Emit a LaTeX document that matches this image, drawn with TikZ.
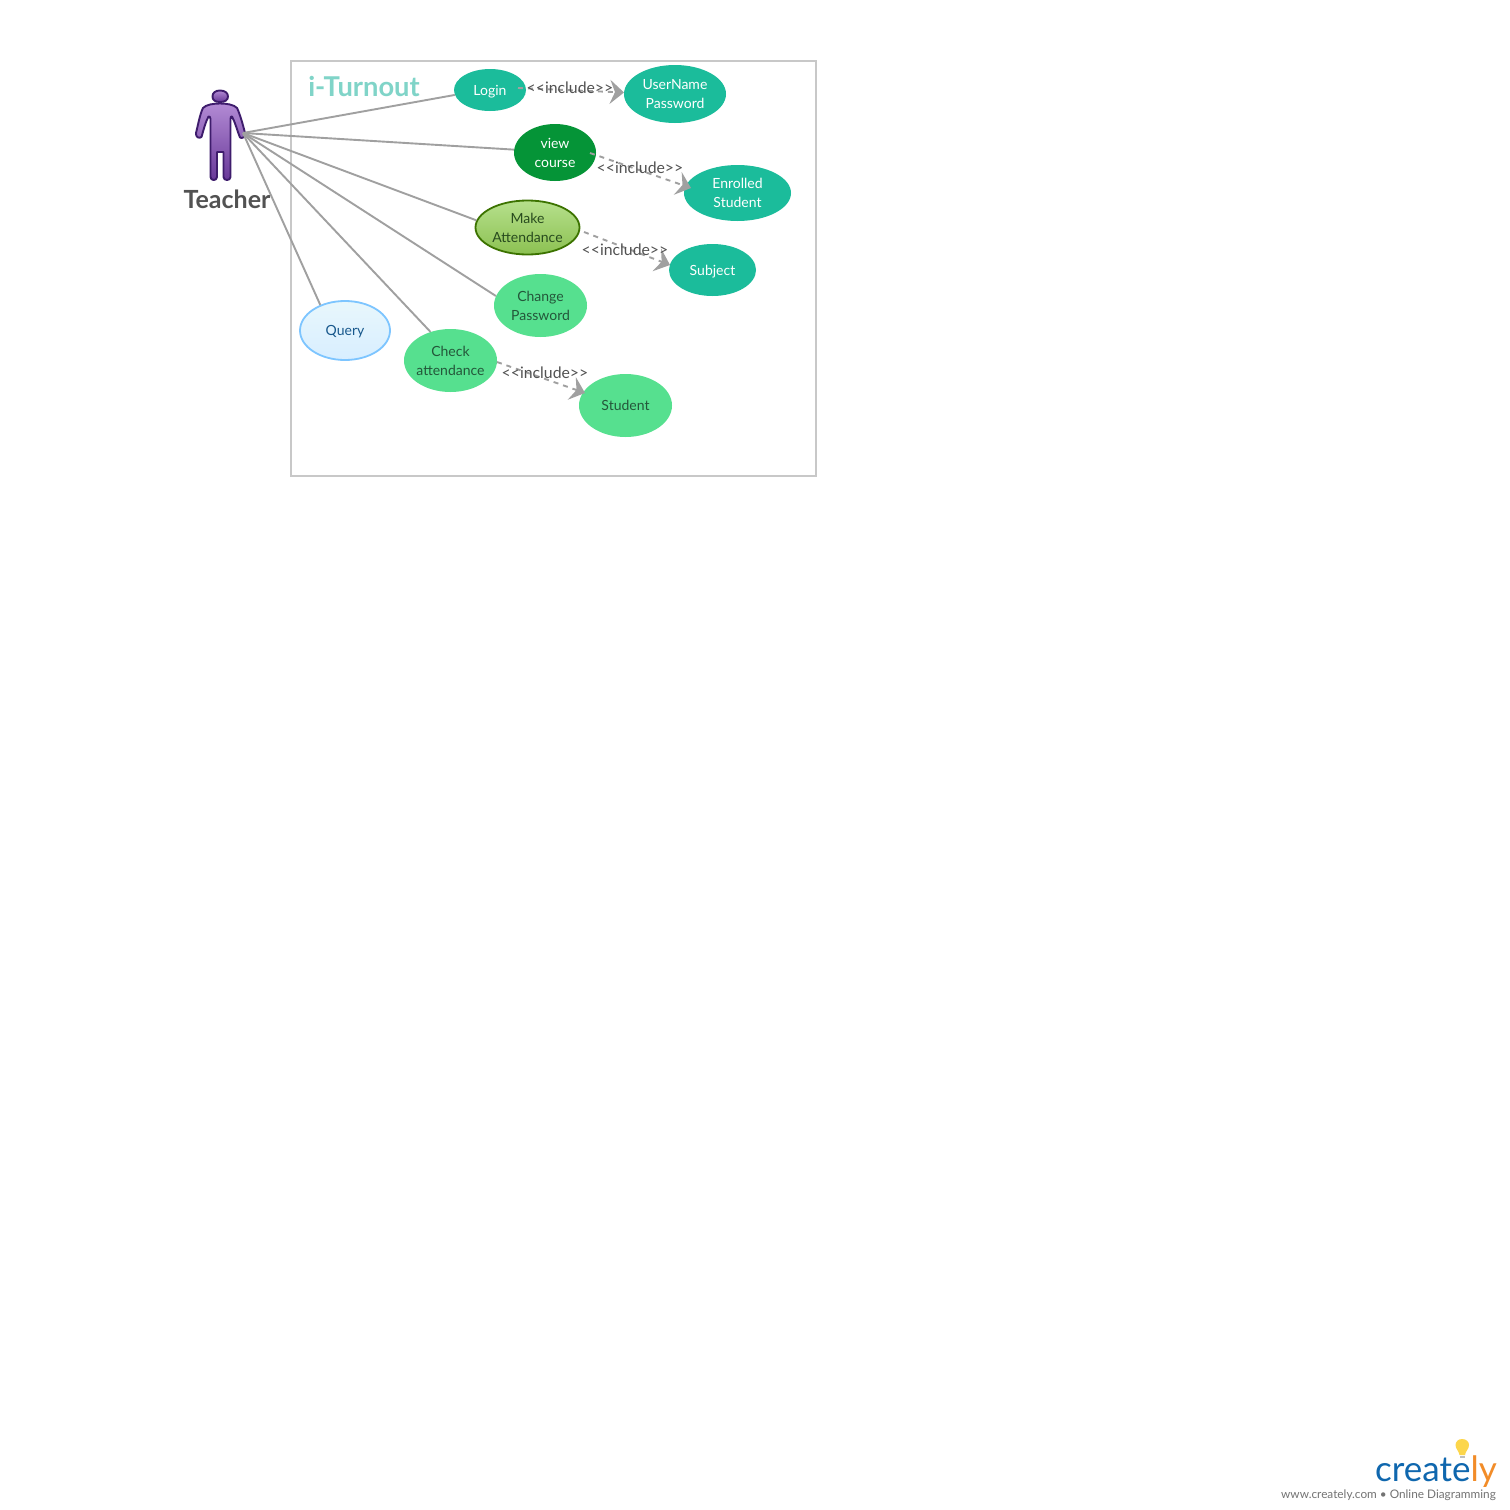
\documentclass[tikz,border=0pt]{standalone}
\usepackage{fontspec}
\setmainfont{Lato}
\usetikzlibrary{shapes.geometric,arrows.meta}
\definecolor{teal}{HTML}{1BBC9B}
\definecolor{dkgreen}{HTML}{059437}
\definecolor{ltgreen}{HTML}{56E08F}
\definecolor{ltgreentxt}{HTML}{24573A}
\definecolor{linegray}{HTML}{A0A0A0}
\definecolor{boxgray}{HTML}{C8C8C8}
\definecolor{titlecol}{HTML}{80D4C8}
\newcommand{\zw}[1]{\makebox[0pt][c]{#1}}
\newcommand{\oneline}[1]{\raisebox{-5pt}[0pt][0pt]{\zw{#1}}}
\newcommand{\incltxt}{{<}{<}include{>}{>}}
\tikzset{
  uc/.style={ellipse,inner sep=0pt,align=center,font=\fontsize{14}{19}\selectfont,minimum width=#1},
  tealuc/.style={uc=#1,fill=teal,text=white},
  lightuc/.style={uc=#1,fill=ltgreen,text=ltgreentxt},
  assoc/.style={draw=linegray,line width=1.9pt},
  incl/.style={draw=linegray,line width=1.9pt,dash pattern=on 5pt off 5pt,
    -{Stealth[length=14pt,width=24pt,inset=5pt]}},
  incltext/.style={font=\fontsize{15.8}{18}\selectfont,text=black!68,inner sep=0pt},
}
\begin{document}
\begin{tikzpicture}[x=1pt,y=-1pt]
\useasboundingbox (0,0) rectangle (1510,1510);
\fill[white] (0,0) rectangle (1510,1510);
% system boundary
\node[draw=boxgray,line width=2pt,minimum width=525pt,minimum height=415pt,inner sep=0pt] (sys) at (553.5,268.5) {};
\node[font=\fontsize{27.3}{30}\selectfont\bfseries,text=titlecol,inner sep=0pt] (title) at (364,86) {i-Turnout};
\coordinate (actor) at (243,133);
\node[tealuc=72pt,minimum height=42pt] (login) at (490,90) {\oneline{Login}};
\node[tealuc=102pt,minimum height=58pt] (user) at (675,94) {\zw{UserName}\\\zw{Password}};
\node[uc=82pt,minimum height=57pt,fill=dkgreen,text=white] (view) at (555,152.5) {\zw{view}\\\zw{course}};
\node[tealuc=107pt,minimum height=56pt] (enr) at (737.5,193) {\zw{Enrolled}\\\zw{Student}};
\node[uc=104pt,minimum height=54pt,draw={rgb,255:red,60;green,115;blue,0},line width=1.8pt,top color={rgb,255:red,182;green,224;blue,140},bottom color={rgb,255:red,140;green,193;blue,82},text={rgb,255:red,40;green,75;blue,30}] (make) at (527.5,227.5) {\zw{Make}\\\zw{Attendance}};
\node[tealuc=87pt,minimum height=52pt] (subj) at (712.5,270) {\oneline{Subject}};
\node[lightuc=93pt,minimum height=63pt] (chg) at (540.5,305.5) {\zw{Change}\\\zw{Password}};
\node[uc=90pt,minimum height=59pt,draw={rgb,255:red,125;green,197;blue,255},line width=1.8pt,top color={rgb,255:red,232;green,247;blue,252},bottom color={rgb,255:red,216;green,238;blue,255},text={rgb,255:red,24;green,88;blue,140}] (query) at (345,330.5) {\oneline{Query}};
\node[lightuc=93pt,minimum height=63pt] (chk) at (450.5,360.5) {\zw{Check}\\\zw{attendance}};
\node[lightuc=93pt,minimum height=63pt] (stu) at (625.5,405.5) {\oneline{Student}};
% actor
\shade[top color={rgb,255:red,178;green,138;blue,212},bottom color={rgb,255:red,104;green,56;blue,152},draw={rgb,255:red,62;green,28;blue,108},line width=1.9pt,line join=round]
 (220,90.5) .. controls (225,90.5) and (228,93) .. (228,96.5) .. controls (228,100) and (225,102) .. (220,102) .. controls (215,102) and (212.5,100) .. (212.5,96.5) .. controls (212.5,93) and (215,90.5) .. (220,90.5) -- cycle;
\shade[top color={rgb,255:red,178;green,138;blue,212},bottom color={rgb,255:red,104;green,56;blue,152},draw={rgb,255:red,62;green,28;blue,108},line width=1.9pt,line join=round]
 (220,103.5) .. controls (226,103.5) and (234,104.5) .. (237,108) .. controls (240,114) and (243,125) .. (245,133) .. controls (245.5,137) and (242,139) .. (240,137.5) .. controls (237,130) and (235,122) .. (232,116.5) .. controls (231,116) and (230.5,117) .. (230.5,119) -- (230.5,177) .. controls (230.5,181) and (223.5,181) .. (223.5,177) -- (223.5,152) -- (217,152) -- (217,177) .. controls (217,181) and (210.5,181) .. (210.5,177) -- (210.5,119) .. controls (210.5,117) and (209.5,116) .. (208.5,116.5) .. controls (205.5,122) and (203.5,130) .. (201.5,137) .. controls (199,139) and (195.5,137) .. (196,133) .. controls (198,125) and (200,114) .. (203,108) .. controls (206,104.5) and (214,103.5) .. (220,103.5) -- cycle;
\node[font=\fontsize{25}{28}\selectfont\bfseries,text=black!68,inner sep=0pt] (teacher) at (227,199.5) {Teacher};
% associations
\draw[assoc] (actor) -- (login.188);
\draw[assoc] (actor) -- (view.176);
\draw[assoc] (actor) -- (make.172);
\draw[assoc] (actor) -- (chg.168);
\draw[assoc] (actor) -- (chk.125);
\draw[assoc] (actor) -- (query.134);
% includes
\coordinate (a1) at (518,88); \coordinate (b1) at (624,92.5);
\coordinate (a2) at (590,153); \coordinate (b2) at (691,188);
\coordinate (a3) at (584,232); \coordinate (b3) at (670,265);
\coordinate (a4) at (497,362); \coordinate (b4) at (585,393);
\draw[incl] (a1) -- (b1);
\draw[incl] (a2) -- (b2);
\draw[incl] (a3) -- (b3);
\draw[incl] (a4) -- (b4);
\node[incltext] (l1) at (570,88) {\incltxt};
\node[incltext] (l2) at (640,168) {\incltxt};
\node[incltext] (l3) at (625,250) {\incltxt};
\node[incltext] (l4) at (545,373) {\incltxt};
% logo
\fill[yellow!60!orange!70] (1462,1439) .. controls (1466.5,1439) and (1469,1442) .. (1469,1445) .. controls (1469,1449) and (1465.5,1451) .. (1465,1455) -- (1459.5,1455) .. controls (1459,1451) and (1455.5,1449) .. (1455.5,1445) .. controls (1455.5,1442) and (1458,1439) .. (1462,1439) -- cycle;
\fill[black!25] (1459.5,1455.8) rectangle (1465,1458);
\node[anchor=base east,inner sep=0pt,font=\fontsize{35}{40}\selectfont] (logo) at (1497,1481) {\textcolor[HTML]{0F67AE}{create}\textcolor[HTML]{F28C28}{ly}};
\node[anchor=base east,inner sep=0pt,font=\fontsize{11.8}{14}\selectfont,text=black!55] (url) at (1496,1498) {www.creately.com • Online Diagramming};
\end{tikzpicture}
\end{document}
